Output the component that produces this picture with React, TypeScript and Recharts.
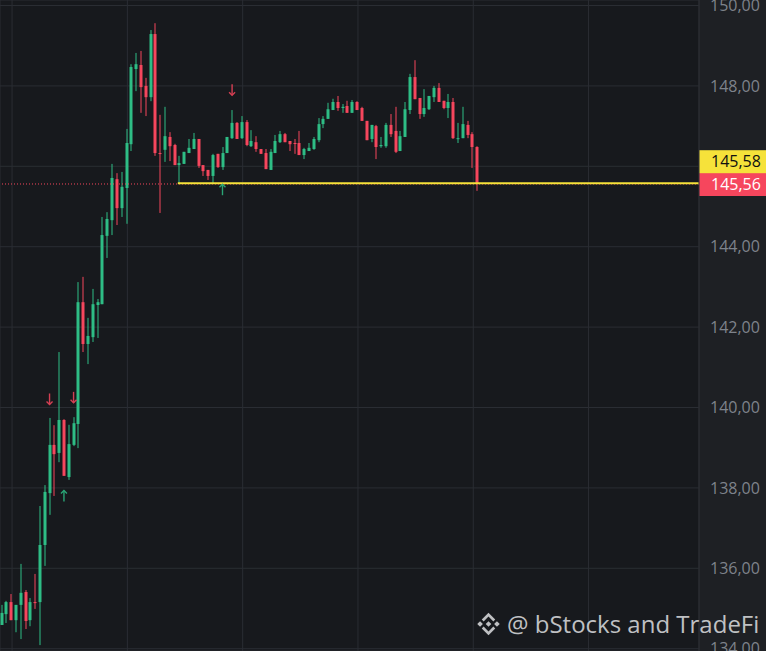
import React from "react";
import {
  ComposedChart,
  Bar,
  Scatter,
  XAxis,
  YAxis,
  CartesianGrid,
  ReferenceLine,
} from "recharts";

// OHLC, one entry per candle
const opens = [
  134.59, 134.86, 135.16, 134.71, 135.09, 135.41, 134.71, 135.16, 135.16, 136.58,
  137.87, 139.07, 138.87, 139.69, 138.27, 139.07, 139.59, 142.62, 141.58, 141.75,
  142.55, 142.57, 144.27, 144.66, 145.68, 144.96, 145.46, 146.55, 148.42, 148.52,
  148.0, 147.72, 149.29, 146.33, 146.41, 146.73, 146.53, 146.03, 146.06, 146.33,
  146.43, 146.68, 146.03, 145.91, 145.76, 146.31, 145.98, 146.33, 146.7, 147.08,
  146.7, 147.1, 146.5, 146.6, 146.43, 146.33, 145.91, 146.33, 146.6, 146.8,
  146.63, 146.58, 146.58, 146.28, 146.38, 146.43, 146.65, 147.05, 147.18, 147.4,
  147.6, 147.45, 147.5, 147.33, 147.6, 147.45, 147.13, 146.68, 147.0, 146.5,
  146.5, 147.03, 146.88, 146.38, 146.73, 147.4, 148.22, 147.7, 147.3, 147.42,
  147.72, 147.95, 147.63, 147.45, 147.6, 146.68, 146.7, 147.03, 146.8, 146.48,
];
const highs = [
  135.09, 135.19, 135.36, 135.09, 136.11, 135.46, 135.26, 135.86, 137.55, 138.07,
  139.74, 139.56, 141.38, 139.71, 139.57, 139.76, 143.12, 143.25, 142.23, 142.95,
  142.7, 144.74, 144.86, 146.06, 145.83, 145.86, 146.93, 148.54, 148.82, 148.87,
  148.2, 149.39, 149.56, 147.28, 147.48, 146.85, 146.56, 146.26, 146.36, 146.68,
  146.83, 146.68, 146.03, 145.91, 146.31, 146.31, 146.48, 146.73, 147.4, 147.1,
  147.25, 147.15, 146.9, 146.75, 146.43, 146.43, 146.43, 146.78, 146.88, 146.83,
  146.63, 146.68, 146.88, 146.46, 146.58, 146.73, 147.2, 147.25, 147.58, 147.68,
  147.75, 147.55, 147.63, 147.65, 147.62, 147.48, 147.13, 147.03, 147.03, 146.73,
  147.08, 147.3, 147.48, 146.88, 147.6, 148.3, 148.64, 147.7, 147.92, 147.75,
  148.0, 148.07, 147.63, 147.8, 147.7, 147.08, 147.48, 147.13, 146.85, 146.5,
];
const lows = [
  134.59, 134.64, 134.71, 134.41, 134.24, 134.49, 134.56, 134.99, 134.09, 136.06,
  137.33, 137.8, 138.64, 138.3, 138.2, 139.04, 138.99, 141.38, 141.08, 141.63,
  141.73, 142.57, 143.72, 144.29, 144.54, 144.74, 144.57, 146.38, 147.87, 147.33,
  147.25, 147.62, 146.26, 144.84, 146.11, 146.13, 146.03, 145.58, 146.06, 146.33,
  146.43, 145.96, 145.76, 145.66, 145.58, 145.96, 145.91, 146.33, 146.68, 146.68,
  146.68, 146.5, 146.48, 146.36, 146.31, 145.93, 145.91, 146.33, 146.58, 146.6,
  146.38, 146.31, 146.28, 146.18, 146.38, 146.41, 146.6, 146.95, 147.18, 147.4,
  147.38, 147.33, 147.33, 147.33, 147.4, 147.13, 146.65, 146.6, 146.18, 146.46,
  146.46, 146.73, 146.33, 146.38, 146.73, 147.3, 147.67, 147.18, 147.23, 147.4,
  147.6, 147.6, 147.42, 147.2, 146.68, 146.58, 146.7, 146.7, 145.96, 145.39,
];
const closes = [
  134.89, 135.16, 134.71, 135.09, 135.39, 134.69, 135.16, 135.14, 136.58, 137.9,
  139.07, 138.84, 139.69, 138.3, 139.09, 139.61, 142.62, 141.58, 141.78, 142.57,
  142.62, 144.29, 144.69, 145.71, 144.96, 145.49, 146.58, 148.47, 148.54, 147.97,
  147.72, 149.29, 146.33, 146.31, 146.75, 146.5, 146.03, 146.08, 146.36, 146.46,
  146.68, 146.01, 145.88, 145.76, 146.28, 145.98, 146.33, 146.73, 147.08, 146.68,
  147.1, 146.53, 146.63, 146.43, 146.31, 145.93, 146.36, 146.63, 146.8, 146.6,
  146.55, 146.57, 146.28, 146.43, 146.46, 146.68, 147.05, 147.18, 147.42, 147.6,
  147.45, 147.48, 147.33, 147.6, 147.4, 147.13, 146.65, 147.03, 146.48, 146.53,
  147.03, 146.8, 146.36, 146.75, 147.42, 148.22, 147.67, 147.3, 147.45, 147.75,
  147.95, 147.6, 147.45, 147.6, 146.7, 146.7, 147.05, 146.78, 146.48, 145.56,
];

// signal arrows: candle index, price, direction
const arrowIdx = [10, 15, 48, 13, 46];
const arrowPrice = [140.2, 140.24, 147.89, 137.81, 145.43];
const arrowDir = ["down", "down", "down", "up", "up"];

const yTicks = [134, 136, 138, 140, 142, 144, 146, 148, 150];
const xTicks = [2.2, 26.2, 50.2, 74.2, 98.2, 122.2];
const lastPrice = 145.56;
const linePrice = 145.58;
const lineStart = 36.7;

const GREEN = "#2ebd85";
const RED = "#f6465d";
const YELLOW = "#f6e23a";
const GRID = "#2a2d33";
const FONT = "'Open Sans', sans-serif";

const candles = opens.map((o, i) => ({
  i,
  open: o,
  high: highs[i],
  low: lows[i],
  close: closes[i],
  range: [lows[i], highs[i]],
}));

const arrows = arrowIdx.map((i, k) => ({ i, p: arrowPrice[k], dir: arrowDir[k] }));

const fmt = (v: number) => v.toFixed(2).replace(".", ",");

const Candle = (props: any) => {
  const { x, y, width, height, payload } = props;
  if (x == null || y == null) return null;
  const top = Math.min(y, y + height);
  const h = Math.abs(height);
  const { open, close, high, low } = payload;
  const k = h / (high - low || 1);
  const yOf = (v: number) => top + (high - v) * k;
  const color = close >= open ? GREEN : RED;
  const cx = Math.round(x + width / 2);
  const bTop = yOf(Math.max(open, close));
  const bBot = yOf(Math.min(open, close));
  return (
    <g>
      <rect x={cx - 0.5} y={top} width={1} height={Math.max(h, 1)} fill={color} />
      <rect x={cx - 1.5} y={bTop} width={3} height={Math.max(bBot - bTop, 1)} fill={color} />
    </g>
  );
};

const Arrow = (props: any) => {
  const { cx, cy, payload } = props;
  if (cx == null || cy == null) return null;
  const down = payload.dir === "down";
  const color = down ? RED : GREEN;
  const s = down ? 1 : -1;
  return (
    <g stroke={color} strokeWidth={1.4} fill="none" opacity={0.85}>
      <line x1={cx} y1={cy - 6 * s} x2={cx} y2={cy + 5 * s} />
      <polyline points={`${cx - 3},${cy + 2 * s} ${cx},${cy + 5 * s} ${cx + 3},${cy + 2 * s}`} />
    </g>
  );
};

// tick labels hidden under the price tags are not drawn
const AxisTick = (p: any) => {
  const v = p.payload.value;
  if (Math.abs(v - lastPrice) < 0.7) return <g />;
  return (
    <text x={p.x} y={p.y} dy="0.355em" textAnchor="start" fill="#7e838b" fontSize={16} fontFamily={FONT}>
      {fmt(v)}
    </text>
  );
};

const PriceTag = ({ viewBox, value, bg, fg, shift }: any) => {
  if (!viewBox) return null;
  const right = viewBox.x + viewBox.width;
  const cy = viewBox.y + shift;
  return (
    <g>
      <rect x={right} y={cy - 11.5} width={67} height={23} fill={bg} />
      <text x={right + 12} y={cy} dy="0.36em" fill={fg} fontSize={16} fontFamily={FONT}>
        {value}
      </text>
    </g>
  );
};

export default function App() {
  return (
    <div
      style={{
        position: "absolute",
        left: 0,
        top: 0,
        width: 766,
        height: 651,
        background: "#17191d",
        overflow: "hidden",
      }}
    >
      <div
        style={{
          position: "absolute",
          left: 699,
          top: 0,
          width: 67,
          height: 651,
          background: "#1e2024",
        }}
      />
      <div style={{ position: "absolute", left: 0, top: 0 }}>
        <ComposedChart
          width={766}
          height={651}
          data={candles}
          margin={{ top: 0, right: 0, bottom: 0, left: 0 }}
        >
          <CartesianGrid stroke={GRID} strokeWidth={1} />
          <XAxis
            dataKey="i"
            type="number"
            domain={[-0.312, 145.19]}
            ticks={xTicks}
            allowDataOverflow
            hide
          />
          <YAxis
            orientation="right"
            width={67}
            domain={[133.943, 150.137]}
            ticks={yTicks}
            interval={0}
            allowDataOverflow
            tickLine={false}
            tickMargin={5}
            axisLine={{ stroke: GRID }}
            tick={AxisTick}
          />
          <Bar dataKey="range" barSize={3} shape={Candle} isAnimationActive={false} />
          <Scatter data={arrows} dataKey="p" shape={Arrow} isAnimationActive={false} />
          <ReferenceLine
            y={lastPrice}
            stroke={RED}
            strokeWidth={1}
            strokeDasharray="1 2"
            label={(p: any) => (
              <PriceTag viewBox={p.viewBox} value={fmt(lastPrice)} bg={RED} fg="#ffffff" shift={0.5} />
            )}
          />
          <ReferenceLine
            segment={[
              { x: lineStart, y: linePrice },
              { x: 145.19, y: linePrice },
            ]}
            stroke={YELLOW}
            strokeWidth={2}
            label={(p: any) => (
              <PriceTag viewBox={p.viewBox} value={fmt(linePrice)} bg={YELLOW} fg="#111111" shift={-21.5} />
            )}
          />
        </ComposedChart>
      </div>
      <svg
        width={766}
        height={651}
        style={{ position: "absolute", left: 0, top: 0, pointerEvents: "none" }}
      >
        <g transform="translate(475 610.5) scale(1.125)" fill="#d2d3d5" opacity={0.9}>
          <polygon points="12,9.5 14.5,12 12,14.5 9.5,12" />
          <polygon points="4.5,9.5 7,12 4.5,14.5 2,12" />
          <polygon points="19.5,9.5 22,12 19.5,14.5 17,12" />
          <polygon points="12,2 18,8 16.3,9.7 12,5.4 7.7,9.7 6,8" />
          <polygon points="12,22 18,16 16.3,14.3 12,18.6 7.7,14.3 6,16" />
        </g>
        <text x={507} y={633} fill="#d2d3d5" opacity={0.9} fontSize={24} fontFamily={FONT}>
          @ bStocks and TradeFi
        </text>
      </svg>
    </div>
  );
}
